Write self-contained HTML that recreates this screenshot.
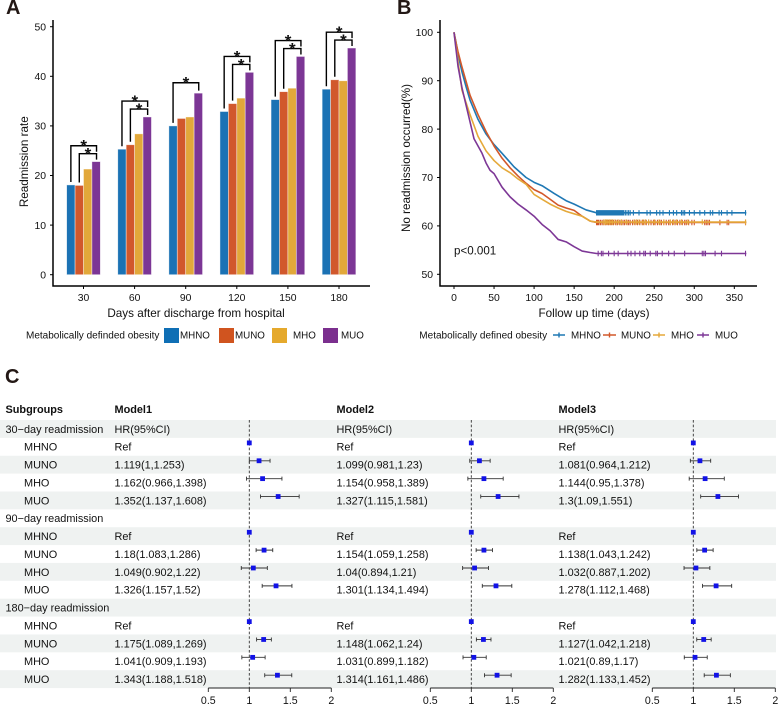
<!DOCTYPE html>
<html lang="en">
<head>
<meta charset="utf-8">
<title>Readmission rate, survival and hazard ratio figure</title>
<style>
html,body{margin:0;padding:0;background:#fff}
svg{display:block;font-family:"Liberation Sans",Arial,sans-serif}
text{fill:#111}
</style>
</head>
<body>
<svg id="fig" xmlns="http://www.w3.org/2000/svg" width="778" height="704" viewBox="0 0 778 704">
  <text x="6" y="14" font-size="20" font-weight="bold" style="fill:#231815">A</text>
  <text x="397" y="14" font-size="20" font-weight="bold" style="fill:#231815">B</text>
  <text x="5" y="383" font-size="20" font-weight="bold" style="fill:#231815">C</text>

  <g id="panelA"></g>
  <text transform="translate(28,161.7) rotate(-90)" text-anchor="middle" font-size="11.7">Readmission rate</text>
  <text x="196" y="317" text-anchor="middle" font-size="11.7">Days after discharge from hospital</text>
  <g font-size="9.8">
    <text x="26" y="338.5" font-size="10">Metabolically definded obesity</text>
    <rect x="164" y="328" width="15" height="15" fill="#0f6fb5"/>
    <text x="180" y="338.5">MHNO</text>
    <rect x="219" y="328" width="15" height="15" fill="#d0541f"/>
    <text x="235" y="338.5">MUNO</text>
    <rect x="272" y="328" width="15" height="15" fill="#e5a92c"/>
    <text x="293" y="338.5">MHO</text>
    <rect x="323" y="328" width="15" height="15" fill="#7b2f8e"/>
    <text x="341" y="338.5">MUO</text>
  </g>

  <g id="panelB"></g>
  <text transform="translate(410,158) rotate(-90)" text-anchor="middle" font-size="11.7">No readmission occurred(%)</text>
  <text x="594" y="317" text-anchor="middle" font-size="11.7">Follow up time (days)</text>
  <text x="454" y="254.6" font-size="11.6">p&lt;0.001</text>
  <g font-size="9.8">
    <text x="419.3" y="338.5" font-size="10">Metabolically defined obesity</text>
    <path d="M553 335H565M559 332.5V337.5" stroke="#1f78b4" stroke-width="1.4" fill="none"/>
    <text x="571" y="338.5">MHNO</text>
    <path d="M603 335H616M609.5 332.5V337.5" stroke="#d2582a" stroke-width="1.4" fill="none"/>
    <text x="621" y="338.5">MUNO</text>
    <path d="M653 335H665M659 332.5V337.5" stroke="#e5a93a" stroke-width="1.4" fill="none"/>
    <text x="671" y="338.5">MHO</text>
    <path d="M697 335H709M703 332.5V337.5" stroke="#7d3796" stroke-width="1.4" fill="none"/>
    <text x="715" y="338.5">MUO</text>
  </g>

  <g id="panelC" font-size="10.9"></g>
</svg>

<script>
/* ---------- Panel A data ---------- */
const barCategories = [30, 60, 90, 120, 150, 180];
const barMhno = [18.1, 25.3, 30.0, 32.9, 35.3, 37.4];
const barMuno = [18.0, 26.2, 31.5, 34.5, 36.9, 39.3];
const barMho = [21.3, 28.4, 31.8, 35.6, 37.6, 39.1];
const barMuo = [22.8, 31.8, 36.6, 40.8, 44.0, 45.7];
const barHasInnerBracket = [true, true, false, true, true, true];
const barYTicks = [0, 10, 20, 30, 40, 50];

/* ---------- Panel B data ---------- */
const kmXTicks = [0, 50, 100, 150, 200, 250, 300, 350];
const kmYTicks = [50, 60, 70, 80, 90, 100];
const kmMhnoT = [0, 3, 5, 10, 15, 20, 30, 40, 50, 60, 75, 90, 100, 110, 125, 140, 150, 165, 178, 365];
const kmMhnoS = [100, 97.5, 95.5, 91.8, 88.8, 86, 82, 79, 76.8, 75, 72.2, 70, 69, 68.3, 66.7, 65.2, 64.5, 63.3, 62.7, 62.7];
const kmMunoT = [0, 3, 5, 10, 20, 30, 40, 50, 60, 70, 80, 90, 100, 110, 120, 130, 140, 150, 160, 170, 178, 365];
const kmMunoS = [100, 97.5, 96, 92.8, 87, 83, 79.5, 76.5, 74, 72, 70.3, 68.8, 67.5, 66.7, 65.5, 64.3, 63.7, 63.2, 62, 61, 60.7, 60.7];
const kmMhoT = [0, 5, 10, 15, 20, 30, 40, 50, 60, 70, 80, 90, 100, 110, 120, 130, 140, 150, 160, 170, 178, 365];
const kmMhoS = [100, 94, 88, 85.5, 83, 78.5, 75.5, 73.5, 72, 71, 69.7, 68.6, 66.5, 65.5, 64.5, 63.7, 63, 62.5, 62, 61, 60.8, 60.8];
const kmMuoT = [0, 5, 10, 15, 20, 25, 30, 35, 40, 45, 50, 60, 70, 80, 90, 100, 110, 120, 130, 140, 150, 160, 170, 178, 365];
const kmMuoS = [100, 93, 88.5, 85, 81.5, 78, 76.5, 75, 73, 71.5, 70.8, 68, 66, 64.5, 63.3, 62, 60.3, 59, 57.2, 56.7, 55.7, 54.8, 54.5, 54.3, 54.3];
const censorMhno = [178,179,180,181,182,183,184,185,186,187,188,189,190,191,192,193,194,195,196,197,198,199,200,201,202,203,204,205,206,207,208,209,210,211,212,214,216,218,220,224,231,241,245,253,257,261,269,274,278,284,286,288,294,300,307,313,320,323,331,334,341,347,364];
const censorMuno = [178,179,180,181,183,185,187,189,191,193,195,197,199,202,204,207,209,211,213,216,218,220,223,226,229,232,235,237,240,243,246,249,251,254,257,259,262,265,268,270,273,276,279,282,285,288,290,293,297,300,313,315,317,319,332,341,343,364];
const censorMho = [187,189,190,192,194,196,198,201,205,209,215,225,228,231,236,239,243,250,256,262,270,274,278,284,292,310,364];
const censorMuo = [180,184,186,193,200,205,217,221,226,232,237,239,245,252,254,260,268,275,288,310,312,314,326,334,364];

/* ---------- Panel C data ---------- */
const forestRowLabels = ["30\u2212day readmission","MHNO","MUNO","MHO","MUO","90\u2212day readmission","MHNO","MUNO","MHO","MUO","180\u2212day readmission","MHNO","MUNO","MHO","MUO"];
const forestTicks = [0.5, 1, 1.5, 2];
const model1Hr = [1, 1.119, 1.162, 1.352, 1, 1.18, 1.049, 1.326, 1, 1.175, 1.041, 1.343];
const model1Lo = [null, 1, 0.966, 1.137, null, 1.083, 0.902, 1.157, null, 1.089, 0.909, 1.188];
const model1Hi = [null, 1.253, 1.398, 1.608, null, 1.286, 1.22, 1.52, null, 1.269, 1.193, 1.518];
const model2Hr = [1, 1.099, 1.154, 1.327, 1, 1.154, 1.04, 1.301, 1, 1.148, 1.031, 1.314];
const model2Lo = [null, 0.981, 0.958, 1.115, null, 1.059, 0.894, 1.134, null, 1.062, 0.899, 1.161];
const model2Hi = [null, 1.23, 1.389, 1.581, null, 1.258, 1.21, 1.494, null, 1.24, 1.182, 1.486];
const model3Hr = [1, 1.081, 1.144, 1.3, 1, 1.138, 1.032, 1.278, 1, 1.127, 1.021, 1.282];
const model3Lo = [null, 0.964, 0.95, 1.09, null, 1.043, 0.887, 1.112, null, 1.042, 0.89, 1.133];
const model3Hi = [null, 1.212, 1.378, 1.551, null, 1.242, 1.202, 1.468, null, 1.218, 1.17, 1.452];

const NS = "http://www.w3.org/2000/svg";
function mk(parent, tag, attrs, txt) {
  const e = document.createElementNS(NS, tag);
  for (const k in attrs) e.setAttribute(k, attrs[k]);
  if (txt !== undefined) e.textContent = txt;
  parent.appendChild(e);
  return e;
}

/* ---------- Panel A ---------- */
(function () {
  const g = document.getElementById("panelA");
  const xA = i => 83.5 + 51.1 * i;
  const yA = v => 274.7 - 4.96 * v;
  const barW = 8.42;
  const colors = ["#1b72b4", "#d1582c", "#e2a83a", "#7c3695"];
  const series = [barMhno, barMuno, barMho, barMuo];
  const names = ["mhno", "muno", "mho", "muo"];
  const barCenter = (i, j) => xA(i) + (j - 1.5) * barW;

  barCategories.forEach((cat, i) => {
    series.forEach((vals, j) => {
      const r = mk(g, "rect", {
        x: barCenter(i, j) - barW / 2, y: yA(vals[i]), width: barW,
        height: yA(0) - yA(vals[i]), fill: colors[j],
        stroke: "rgba(255,255,255,0.6)", "stroke-width": 0.7
      });
      
      
    });

    const top = barMuo[i];
    const right = barCenter(i, 3) + 0.4;
    const outerVal = top + (barHasInnerBracket[i] ? 3.2 : 2.1);
    const outerLeft = barCenter(i, 0);
    const outer = mk(g, "path", {
      d: "M" + outerLeft + " " + yA(barMhno[i] + 0.6) + "V" + yA(outerVal) + "H" + right + "V" + yA(top + (barHasInnerBracket[i] ? 2 : 0.5)),
      fill: "none", stroke: "#000", "stroke-width": 1.4
    });
    
    
    const s1 = mk(g, "text", {
      x: (outerLeft + right) / 2, y: yA(outerVal) + 6, "text-anchor": "middle",
      "font-size": 17, "font-weight": "bold"
    }, "*");
    
    

    if (barHasInnerBracket[i]) {
      const innerVal = top + 1.6;
      const innerLeft = barCenter(i, 1);
      const inner = mk(g, "path", {
        d: "M" + innerLeft + " " + yA(barMuno[i] + 0.6) + "V" + yA(innerVal) + "H" + right + "V" + yA(top + 0.4),
        fill: "none", stroke: "#000", "stroke-width": 1.4
      });
      
      
      const s2 = mk(g, "text", {
        x: (innerLeft + right) / 2, y: yA(innerVal) + 6, "text-anchor": "middle",
        "font-size": 17, "font-weight": "bold"
      }, "*");
      
      
    }

    const t = mk(g, "path", { d: "M" + xA(i) + " 286V289", stroke: "#000", "stroke-width": 1 });
    
    
    const l = mk(g, "text", { x: xA(i), y: 301, "text-anchor": "middle", "font-size": 10.4 }, cat);
    
    
  });

  barYTicks.forEach(v => {
    const t = mk(g, "path", { d: "M50 " + yA(v) + "H53", stroke: "#000", "stroke-width": 1 });
    
    
    const l = mk(g, "text", { x: 46, y: yA(v) + 3.7, "text-anchor": "end", "font-size": 10.4 }, v);
    
    
  });
  const ax = mk(g, "path", { d: "M53 20V286H370", fill: "none", stroke: "#000", "stroke-width": 1.5 });
  
  
})();

/* ---------- Panel B ---------- */
(function () {
  const g = document.getElementById("panelB");
  const xB = t => 454 + 0.8009 * t;
  const yB = v => 32.3 + (100 - v) * 4.84;
  const curves = [
    ["mhno", "#1f78b4", kmMhnoT, kmMhnoS, censorMhno],
    ["muno", "#d2582a", kmMunoT, kmMunoS, censorMuno],
    ["mho", "#e5a93a", kmMhoT, kmMhoS, censorMho],
    ["muo", "#7d3796", kmMuoT, kmMuoS, censorMuo]
  ];
  curves.forEach(c => {
    const pts = c[2].map((t, i) => xB(t).toFixed(2) + "," + yB(c[3][i]).toFixed(2)).join(" ");
    const line = mk(g, "polyline", { points: pts, fill: "none", stroke: c[1], "stroke-width": 1.6, "stroke-linejoin": "round" });
    
    
    const last = c[3][c[3].length - 1];
    const d = c[4].map(t => "M" + xB(t).toFixed(2) + " " + (yB(last) - 2.7).toFixed(2) + "v5.4").join("");
    const cens = mk(g, "path", { d: d, fill: "none", stroke: c[1], "stroke-width": 1.1 });
    
    
  });
  kmXTicks.forEach(v => {
    const t = mk(g, "path", { d: "M" + xB(v) + " 286V289", stroke: "#000", "stroke-width": 1 });
    
    
    const l = mk(g, "text", { x: xB(v), y: 301, "text-anchor": "middle", "font-size": 10.4 }, v);
    
    
  });
  kmYTicks.forEach(v => {
    const t = mk(g, "path", { d: "M437 " + yB(v) + "H440", stroke: "#000", "stroke-width": 1 });
    
    
    const l = mk(g, "text", { x: 433, y: yB(v) + 3.7, "text-anchor": "end", "font-size": 10.4 }, v);
    
    
  });
  const ax = mk(g, "path", { d: "M440 20V286H757", fill: "none", stroke: "#000", "stroke-width": 1.5 });
  
  
})();

/* ---------- Panel C ---------- */
(function () {
  const g = document.getElementById("panelC");
  const rowH = 17.87, top = 420;
  const rowC = i => top + rowH * (i + 0.5);
  const dataRows = [1, 2, 3, 4, 6, 7, 8, 9, 11, 12, 13, 14];

  forestRowLabels.forEach((lab, i) => {
    if (i % 2 === 0) {
      const b = mk(g, "rect", { x: 0, y: top + rowH * i, width: 776, height: rowH, fill: "#eff2f1" });
      
      
    }
  });
  const head = mk(g, "text", { x: 5.5, y: 413, "font-weight": "bold" }, "Subgroups");
  
  

  forestRowLabels.forEach((lab, i) => {
    const isGroup = i % 5 === 0;
    const t = mk(g, "text", { x: isGroup ? 5.5 : 24, y: rowC(i) + 3.9 }, lab);
    
    
  });

  const models = [
    ["Model1", 114.5, 249.3, model1Hr, model1Lo, model1Hi],
    ["Model2", 336.5, 471.3, model2Hr, model2Lo, model2Hi],
    ["Model3", 558.5, 693.3, model3Hr, model3Lo, model3Hi]
  ];
  models.forEach(m => {
    const xF = v => m[2] + (v - 1) * 82;
    const title = mk(g, "text", { x: m[1], y: 413, "font-weight": "bold" }, m[0]);
    
    
    const hrHead = mk(g, "text", { x: m[1], y: rowC(0) + 3.9 }, "HR(95%CI)");
    
    

    const ref = mk(g, "line", { x1: xF(1), x2: xF(1), y1: top, y2: 688, stroke: "#333", "stroke-width": 0.9, "stroke-dasharray": "2.6 2" });
    
    

    dataRows.forEach((r, k) => {
      const hr = m[3][k], lo = m[4][k], hi = m[5][k];
      const isRef = lo === null;
      const label = isRef ? "Ref" : hr + "(" + lo + "," + hi + ")";
      const vt = mk(g, "text", { x: m[1], y: rowC(r) + 3.9 }, label);
      
      
      const my = rowC(r) - 3.9;
      if (!isRef) {
        const ci = mk(g, "path", {
          d: "M" + xF(lo) + " " + my + "H" + xF(hi) + "M" + xF(lo) + " " + (my - 2) + "v4M" + xF(hi) + " " + (my - 2) + "v4",
          fill: "none", stroke: "#333", "stroke-width": 0.9
        });
        
        
      }
      const sq = mk(g, "rect", { x: xF(hr) - 2.4, y: my - 2.4, width: 4.8, height: 4.8, fill: "#1212e6" });
      
      
    });

    const ax = mk(g, "path", { d: "M" + xF(0.5) + " 688H" + xF(2), fill: "none", stroke: "#222", "stroke-width": 1 });
    
    
    forestTicks.forEach(v => {
      const t = mk(g, "path", { d: "M" + xF(v) + " 688V692", stroke: "#222", "stroke-width": 0.9 });
      
      
      const l = mk(g, "text", { x: xF(v), y: 703.8, "text-anchor": "middle", "font-size": 10.6 }, v);
      
      
    });
  });
})();
</script>
</body>
</html>
